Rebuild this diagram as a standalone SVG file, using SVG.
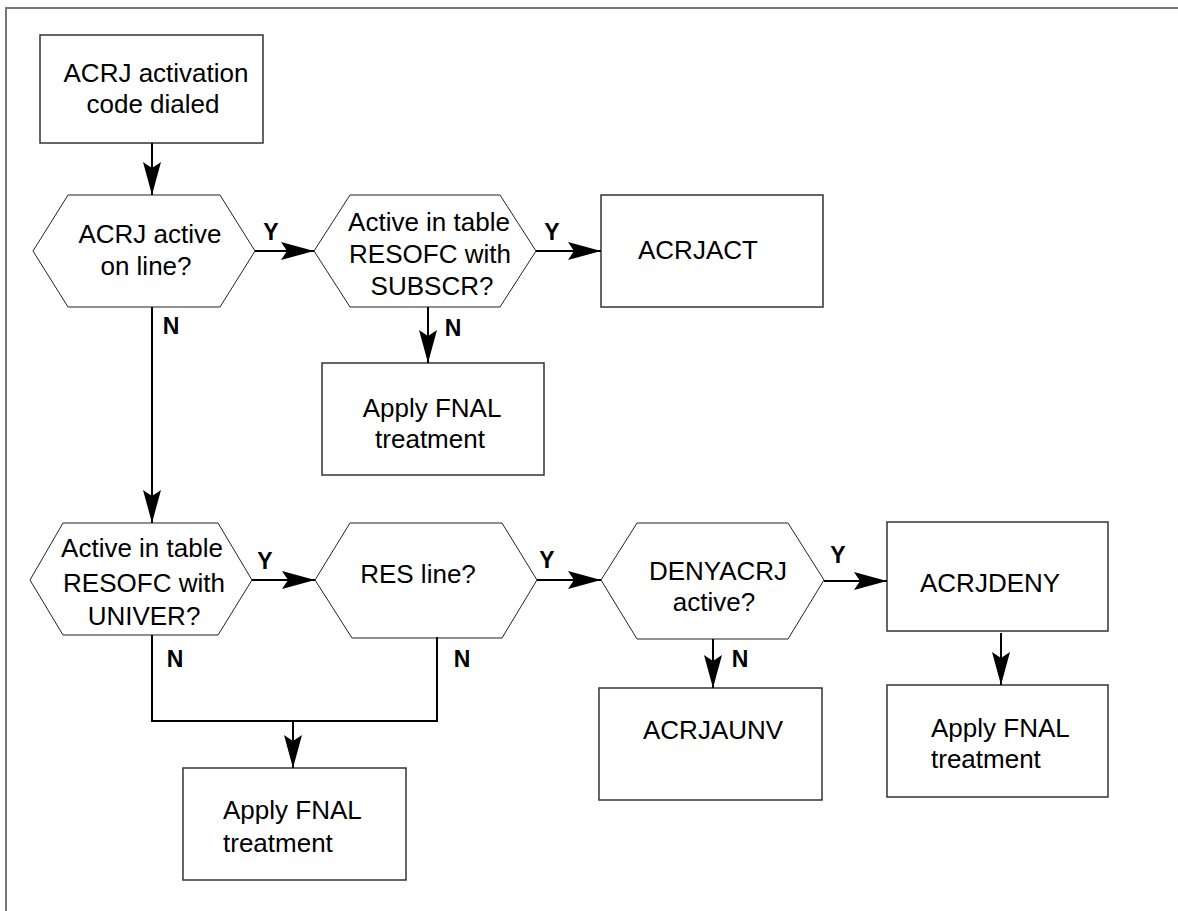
<svg xmlns="http://www.w3.org/2000/svg" width="1178" height="911" viewBox="0 0 1178 911">
<style>
.box{fill:#fff;stroke:#333;stroke-width:1.5}
.hex{fill:#fff;stroke:#222;stroke-width:1}
.t{font-family:"Liberation Sans",Arial,sans-serif;font-size:26px;fill:#000}
.c{text-anchor:middle}
.lbl{font-family:"Liberation Sans",Arial,sans-serif;font-size:23px;font-weight:bold;fill:#000;text-anchor:middle}
.con{fill:none;stroke:#000;stroke-width:2}
</style>
<defs>
<marker id="ah" markerUnits="userSpaceOnUse" markerWidth="40" markerHeight="24" refX="34" refY="10" orient="auto" viewBox="0 0 40 24" overflow="visible">
<path d="M34 10 L1 1 L7 10 L1 19 Z" fill="#000"/>
</marker>
</defs>
<rect width="1178" height="911" fill="#fff"/>
<path d="M6 911 V8 H1178" fill="none" stroke="#777" stroke-width="2"/>

<g id="start">
<rect class="box" x="40" y="35" width="223" height="108"/>
<text class="t c" x="156" y="82">ACRJ activation</text>
<text class="t c" x="153" y="113">code dialed</text>
</g>
<g id="hex1">
<polygon class="hex" points="33,251 68,195 220,195 255,251 220,307 68,307"/>
<text class="t c" x="150" y="243">ACRJ active</text>
<text class="t c" x="146" y="275">on line?</text>
</g>
<g id="hex2">
<polygon class="hex" points="314,251 350,195 500,195 536,251 500,307 350,307"/>
<text class="t c" x="429" y="231">Active in table</text>
<text class="t c" x="430" y="263">RESOFC with</text>
<text class="t c" x="432" y="295">SUBSCR?</text>
</g>
<g id="acrjact">
<rect class="box" x="601" y="195" width="222" height="112"/>
<text class="t" x="638" y="259">ACRJACT</text>
</g>
<g id="fnal1">
<rect class="box" x="322" y="363" width="222" height="112"/>
<text class="t c" x="432" y="417">Apply FNAL</text>
<text class="t c" x="430" y="448">treatment</text>
</g>
<g id="hex3">
<polygon class="hex" points="30,580 63,523 218,523 252,580 218,635 63,635"/>
<text class="t c" x="142" y="557">Active in table</text>
<text class="t c" x="144" y="592">RESOFC with</text>
<text class="t c" x="144" y="625">UNIVER?</text>
</g>
<g id="hex4">
<polygon class="hex" points="315,580 350,523 502,523 537,580 502,638 352,638"/>
<text class="t c" x="418" y="583">RES line?</text>
</g>
<g id="hex5">
<polygon class="hex" points="601,580 637,523 788,523 824,580 788,639 637,639"/>
<text class="t c" x="718" y="580">DENYACRJ</text>
<text class="t c" x="714" y="611">active?</text>
</g>
<g id="acrjdeny">
<rect class="box" x="887" y="522" width="221" height="109"/>
<text class="t" x="920" y="592">ACRJDENY</text>
</g>
<g id="acrjaunv">
<rect class="box" x="599" y="688" width="223" height="112"/>
<text class="t" x="643" y="739">ACRJAUNV</text>
</g>
<g id="fnal2">
<rect class="box" x="183" y="768" width="223" height="112"/>
<text class="t" x="223" y="819">Apply FNAL</text>
<text class="t" x="223" y="852">treatment</text>
</g>
<g id="fnal3">
<rect class="box" x="887" y="685" width="221" height="112"/>
<text class="t" x="931" y="737">Apply FNAL</text>
<text class="t" x="931" y="768">treatment</text>
</g>

<g id="connectors">
<path class="con" d="M152 143 V195" marker-end="url(#ah)"/>
<path class="con" d="M255 251 H314" marker-end="url(#ah)"/>
<path class="con" d="M536 251 H601" marker-end="url(#ah)"/>
<path class="con" d="M428 307 V363" marker-end="url(#ah)"/>
<path class="con" d="M152 307 V523" marker-end="url(#ah)"/>
<path class="con" d="M252 580 H315" marker-end="url(#ah)"/>
<path class="con" d="M537 580 H601" marker-end="url(#ah)"/>
<path class="con" d="M824 581 H887" marker-end="url(#ah)"/>
<path class="con" d="M713 639 V688" marker-end="url(#ah)"/>
<path class="con" d="M1001 633 V685" marker-end="url(#ah)"/>
<path class="con" d="M152 635 V721 H437 V637"/>
<path class="con" d="M293 721 V768" marker-end="url(#ah)"/>
<text class="lbl" x="271" y="240">Y</text>
<text class="lbl" x="552" y="240">Y</text>
<text class="lbl" x="171" y="334">N</text>
<text class="lbl" x="453" y="336">N</text>
<text class="lbl" x="265" y="569">Y</text>
<text class="lbl" x="175" y="667">N</text>
<text class="lbl" x="462" y="667">N</text>
<text class="lbl" x="547" y="568">Y</text>
<text class="lbl" x="740" y="667">N</text>
<text class="lbl" x="838" y="563">Y</text>
</g>
</svg>
